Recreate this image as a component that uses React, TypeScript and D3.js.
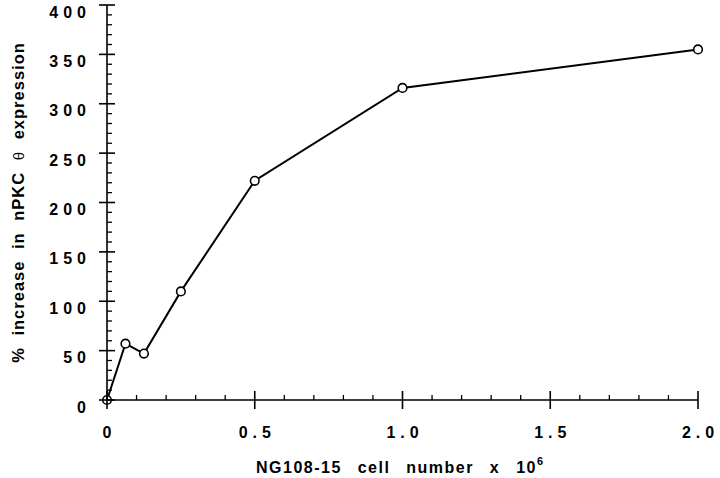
import { useEffect, useRef } from "react";
import * as d3 from "d3";

// cell number (x 10^6) and % increase in nPKC theta expression
const cellNumbers = [0, 0.0625, 0.125, 0.25, 0.5, 1.0, 2.0];
const percentIncrease = [0, 57, 47, 110, 222, 316, 355];
const xTickValues = [0, 0.5, 1.0, 1.5, 2.0];
const xTickLabels = ["0", "0.5", "1.0", "1.5", "2.0"];
const yTickValues = [0, 50, 100, 150, 200, 250, 300, 350, 400];

const App = () => {
    const chartRef = useRef<SVGSVGElement>(null);

    useEffect(() => {
        const svg = d3.select(chartRef.current);
        svg.selectAll("*").remove(); // Clear previous render

        const width = 720;
        const height = 478;
        const margin = { top: 5, right: 22, bottom: 78, left: 107 };
        const font = "'Liberation Sans', Arial, Helvetica, sans-serif";

        const x = d3
            .scaleLinear()
            .domain([0, 2])
            .range([margin.left, width - margin.right]);

        const y = d3
            .scaleLinear()
            .domain([0, 400])
            .range([height - margin.bottom, margin.top]);

        svg.attr("width", width).attr("height", height).attr("viewBox", `0 0 ${width} ${height}`);

        const data = cellNumbers.map((c, i) => ({ c, v: percentIncrease[i] }));

        // Line connecting the points
        const line = d3
            .line<{ c: number; v: number }>()
            .x((d) => x(d.c))
            .y((d) => y(d.v));

        svg
            .append("path")
            .datum(data)
            .attr("d", line)
            .attr("fill", "none")
            .attr("stroke", "#000")
            .attr("stroke-width", 2);

        svg
            .selectAll("circle.pt")
            .data(data)
            .enter()
            .append("circle")
            .attr("class", "pt")
            .attr("cx", (d) => x(d.c))
            .attr("cy", (d) => y(d.v))
            .attr("r", 4.3)
            .attr("fill", "#fff")
            .attr("stroke", "#000")
            .attr("stroke-width", 1.6);

        // Y axis: line, major ticks crossing, minor ticks inside
        const yAxis = svg.append("g");
        yAxis
            .append("line")
            .attr("x1", x(0))
            .attr("x2", x(0))
            .attr("y1", y(0))
            .attr("y2", y(400))
            .attr("stroke", "#000")
            .attr("stroke-width", 1.6);
        yAxis
            .selectAll("line.minor")
            .data(d3.range(0, 401, 10).filter((v) => v % 50 !== 0))
            .enter()
            .append("line")
            .attr("x1", x(0))
            .attr("x2", x(0) + 5)
            .attr("y1", (d) => y(d))
            .attr("y2", (d) => y(d))
            .attr("stroke", "#000")
            .attr("stroke-width", 1.3);
        yAxis
            .selectAll("line.major")
            .data(yTickValues)
            .enter()
            .append("line")
            .attr("x1", x(0) - 8)
            .attr("x2", x(0) + 8)
            .attr("y1", (d) => y(d))
            .attr("y2", (d) => y(d))
            .attr("stroke", "#000")
            .attr("stroke-width", 1.6);
        yAxis
            .selectAll("text")
            .data(yTickValues)
            .enter()
            .append("text")
            .attr("x", x(0) - 21 + 5)
            .attr("y", (d) => y(d) + 12.5)
            .attr("text-anchor", "end")
            .attr("font-family", font)
            .attr("font-weight", "bold")
            .attr("font-size", 16)
            .attr("letter-spacing", 5)
            .text((d) => String(d));

        // X axis
        const xAxis = svg.append("g");
        xAxis
            .append("line")
            .attr("x1", x(0))
            .attr("x2", x(2))
            .attr("y1", y(0))
            .attr("y2", y(0))
            .attr("stroke", "#000")
            .attr("stroke-width", 1.6);
        xAxis
            .selectAll("line.minor")
            .data(d3.range(1, 20).filter((i) => i % 5 !== 0).map((i) => i / 10))
            .enter()
            .append("line")
            .attr("x1", (d) => x(d))
            .attr("x2", (d) => x(d))
            .attr("y1", y(0))
            .attr("y2", y(0) - 5)
            .attr("stroke", "#000")
            .attr("stroke-width", 1.3);
        xAxis
            .selectAll("line.major")
            .data(xTickValues)
            .enter()
            .append("line")
            .attr("x1", (d) => x(d))
            .attr("x2", (d) => x(d))
            .attr("y1", y(0) - 9)
            .attr("y2", y(0) + 9)
            .attr("stroke", "#000")
            .attr("stroke-width", 1.6);
        xAxis
            .selectAll("text")
            .data(xTickValues)
            .enter()
            .append("text")
            .attr("x", (d) => x(d) + 2.5)
            .attr("y", y(0) + 38)
            .attr("text-anchor", "middle")
            .attr("font-family", font)
            .attr("font-weight", "bold")
            .attr("font-size", 16)
            .attr("letter-spacing", 5)
            .text((d, i) => xTickLabels[i]);

        // X axis title
        const xTitle = svg
            .append("text")
            .attr("x", 256)
            .attr("y", 473)
            .attr("font-family", font)
            .attr("font-weight", "bold")
            .attr("font-size", 16)
            .attr("letter-spacing", 1.5)
            .attr("word-spacing", 2)
            .style("white-space", "pre");
        xTitle.append("tspan").text("NG108-15  cell  number  x  10");
        xTitle.append("tspan").attr("dy", -8).attr("font-size", 11).text("6");

        // Y axis title
        const yTitle = svg
            .append("text")
            .attr("transform", `translate(24,${(y(0) + y(400)) / 2}) rotate(-90)`)
            .attr("text-anchor", "middle")
            .attr("font-family", font)
            .attr("font-weight", "bold")
            .attr("font-size", 16.5)
            .attr("letter-spacing", 1)
            .attr("word-spacing", 6)
            .style("white-space", "pre");
        yTitle.append("tspan").text("% increase in nPKC ");
        yTitle.append("tspan").attr("font-weight", "normal").attr("font-size", 15).text("θ");
        yTitle.append("tspan").text(" expression");
    }, []);

    return (
        <svg ref={chartRef} style={{ position: "absolute", left: 0, top: 0, background: "#fff" }}></svg>
    );
};

export default App;
